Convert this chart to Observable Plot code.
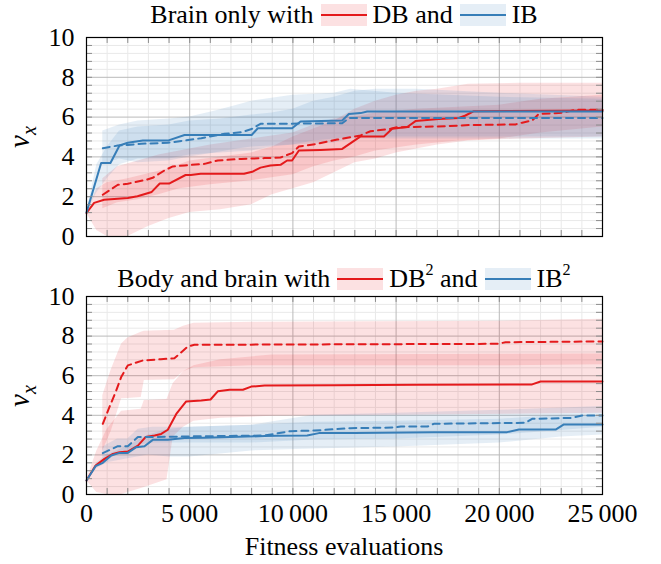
<!DOCTYPE html>
<html><head><meta charset="utf-8">
<script src="https://cdn.jsdelivr.net/npm/d3@7"></script>
<script src="https://cdn.jsdelivr.net/npm/@observablehq/plot@0.6"></script>
<style>
body{margin:0;background:#fff;font-family:"Liberation Serif","DejaVu Serif",serif;}
#wrap{position:relative;width:661px;height:564px;overflow:hidden;background:#fff;}
.title{position:absolute;left:86px;width:516px;display:flex;justify-content:center;align-items:center;font-size:26px;line-height:30px;white-space:nowrap;color:#000;z-index:2;font-family:"Liberation Serif",serif;}
.title svg{margin:0 6px 0 7px;}
.title sup{font-size:0.62em;line-height:0;position:relative;top:-0.15em;}
.ylab{position:absolute;width:60px;text-align:center;font-size:29px;font-style:italic;transform:translate(-50%,-50%) rotate(-90deg);font-family:"Liberation Serif",serif;z-index:2;}
.ylab sub{font-size:0.7em;}
.xlab{position:absolute;left:86px;width:516px;text-align:center;font-size:26px;font-family:"Liberation Serif",serif;z-index:2;}
.panel{position:absolute;left:0;z-index:1;}
.panel svg text{font-family:"Liberation Serif",serif !important;}
</style></head>
<body><div id="wrap"></div>
<script>
// ---------- data ----------
const red = "#e41a1c", blue = "#377eb8";
const xMajor = [0, 5000, 10000, 15000, 20000, 25000];
const xTickLabels = ["0", "5\u2009000", "10\u2009000", "15\u2009000", "20\u2009000", "25\u2009000"];
const xMinor = [1000,2000,3000,4000,6000,7000,8000,9000,11000,12000,13000,14000,16000,17000,18000,19000,21000,22000,23000,24000];
const yMajor = [0, 2, 4, 6, 8, 10];
const yTickLabels = ["0", "2", "4", "6", "8", "10"];
const yMinor = [0.4,0.8,1.2,1.6,2.4,2.8,3.2,3.6,4.4,4.8,5.2,5.6,6.4,6.8,7.2,7.6,8.4,8.8,9.2,9.6];

// Top panel: brain only
const dbTop = [[0,1.18],[370,1.69],[855,1.85],[2000,1.94],[2470,2.02],[3160,2.24],[3550,2.66],[4000,2.66],[4800,3.09],[5050,3.09],[5530,3.15],[7630,3.15],[8030,3.25],[8430,3.46],[8910,3.57],[9400,3.6],[9720,3.82],[9960,3.82],[10290,4.32],[11340,4.35],[12390,4.4],[13280,5.03],[14410,5.03],[14810,5.41],[15540,5.5],[15940,5.8],[17070,5.9],[18040,5.96],[18360,6.08],[18770,6.3],[25000,6.33]];
const dbTopDash = [[790,2.1],[1520,2.6],[2000,2.65],[2890,2.85],[3210,2.95],[3780,3.32],[4180,3.52],[4750,3.57],[5720,3.65],[6360,3.82],[7500,3.9],[8630,3.94],[9400,3.97],[9960,4.19],[10290,4.52],[11180,4.66],[12150,4.87],[13280,5.08],[13760,5.29],[14730,5.41],[15050,5.49],[17400,5.54],[18525,5.6],[20780,5.63],[21110,5.72],[21590,5.83],[21920,6.16],[22880,6.2],[23210,6.25],[23690,6.37],[25000,6.37]];
const ibTop = [[0,1.2],[710,3.69],[1160,3.69],[1600,4.57],[2000,4.71],[2730,4.82],[3940,4.82],[4750,5.1],[8000,5.1],[8300,5.44],[9960,5.44],[10370,5.78],[12390,5.83],[12710,6.16],[13280,6.2],[13600,6.28],[25000,6.28]];
const ibTopDash = [[790,4.44],[1520,4.57],[2000,4.6],[2650,4.66],[3940,4.71],[4750,4.82],[5560,4.94],[6690,5.16],[7500,5.24],[8000,5.4],[8430,5.66],[12390,5.69],[12710,5.95],[25000,5.95]];
const dbTopBand = [[0,1.18,1.18],[500,0.3,2.4],[1000,0,2.7],[2000,0,2.9],[3000,0.5,3.15],[4000,0.9,3.4],[5000,1.2,3.8],[6500,1.35,4.0],[8000,1.6,4.2],[9000,2.1,4.5],[10000,2.4,5.0],[11000,2.7,5.4],[12000,3.2,5.8],[13000,3.7,6.4],[14000,3.9,6.8],[15000,4.2,7.1],[16000,4.4,7.3],[17000,4.6,7.4],[18500,4.8,7.65],[21000,4.9,7.7],[25000,5.0,7.7]];
const dbTopDashBand = [[790,1.4,2.9],[1500,1.7,3.5],[2500,1.85,3.8],[3500,2.1,4.1],[4500,2.4,4.3],[6000,2.6,4.6],[8000,2.8,4.9],[10000,3.1,5.2],[11000,3.5,5.6],[12000,3.8,5.9],[13000,4.0,6.0],[14000,4.3,6.2],[16000,4.6,6.4],[18000,4.8,6.5],[20000,4.9,6.6],[22000,5.2,6.9],[25000,5.5,7.1]];
const ibTopBand = [[0,1.2,1.2],[500,2.2,3.6],[1000,2.9,4.5],[1600,3.6,5.3],[2500,3.9,5.5],[4000,3.9,5.6],[5000,4.1,5.8],[6500,4.2,5.9],[8000,4.3,6.1],[9000,4.5,6.2],[10000,4.6,6.4],[11000,4.8,6.8],[12000,4.9,7.0],[13000,5.0,7.3],[14000,5.0,7.4],[16000,5.0,7.4],[18000,5.0,7.3],[20000,5.0,7.2],[25000,5.0,7.0]];
const ibTopDashBand = [[790,3.6,5.3],[1600,3.9,5.6],[2500,3.7,5.8],[4000,3.8,5.9],[5000,4.0,6.0],[6200,4.2,6.3],[7300,4.4,6.6],[8000,4.5,6.8],[10000,4.6,7.1],[12000,4.7,7.2],[12800,4.9,7.4],[15000,4.9,7.2],[20000,4.9,7.0],[25000,4.9,6.9]];

// Bottom panel: body and brain
const dbBot = [[0,0.71],[440,1.46],[870,1.8],[1280,2.05],[1600,2.14],[2000,2.17],[2490,2.47],[2860,2.9],[3300,2.98],[3620,3.06],[3940,3.27],[4350,4.07],[4830,4.7],[5560,4.75],[6010,4.8],[6370,5.22],[6930,5.29],[7580,5.29],[7980,5.45],[8630,5.5],[12000,5.52],[16000,5.54],[21590,5.56],[22000,5.71],[25000,5.71]];
const dbBotDash = [[790,3.57],[1110,4.41],[1440,5.25],[1680,5.93],[2000,6.52],[2730,6.77],[3600,6.83],[4260,6.88],[4910,7.47],[5230,7.56],[19960,7.61],[20300,7.69],[25000,7.73]];
const ibBot = [[0,0.71],[440,1.43],[790,1.6],[1200,1.97],[1600,2.1],[2000,2.1],[2410,2.39],[2810,2.44],[3210,2.76],[3940,2.76],[4750,2.85],[5720,2.86],[8630,2.95],[9240,2.97],[10690,2.98],[11260,3.1],[12960,3.11],[16810,3.15],[20380,3.15],[20950,3.28],[22730,3.28],[23130,3.54],[25000,3.54]];
const ibBotDash = [[790,2.09],[1520,2.44],[2000,2.44],[2490,2.9],[3210,2.9],[4750,2.93],[8630,2.98],[9880,3.2],[11040,3.23],[12800,3.35],[14900,3.38],[15230,3.43],[16520,3.43],[16830,3.57],[21270,3.62],[21590,3.82],[23530,3.87],[24010,3.99],[25000,3.99]];
const dbBotBand = [[0,0.71,0.71],[500,0.1,2.2],[1000,0,3.3],[1700,0,4.2],[2650,0.3,4.3],[2800,0.35,4.75],[3900,0.75,4.8],[4200,2.9,5.6],[4700,3.4,6.2],[5200,3.7,6.5],[6500,3.85,6.8],[9000,3.95,7.05],[25000,4.1,7.1]];
const dbBotDashBand = [[790,2.2,5.0],[1200,3.2,6.3],[1700,4.83,7.6],[2000,4.85,7.9],[2650,4.9,8.2],[2800,5.76,8.25],[4260,5.8,8.3],[4700,6.2,8.5],[5200,6.4,8.65],[8000,6.5,8.7],[20000,6.5,8.75],[25000,6.55,8.85]];
const ibBotBand = [[0,0.71,0.71],[500,1.3,1.6],[1000,1.6,2.0],[2000,1.8,2.45],[3000,2.0,3.0],[4000,1.9,3.3],[5000,1.9,3.4],[8000,2.2,3.5],[11000,2.3,3.65],[15000,2.4,3.7],[20000,2.6,3.8],[23000,2.9,4.0],[25000,3.0,4.0]];
const ibBotDashBand = [[790,1.8,2.4],[1500,2.1,2.8],[2000,2.1,2.8],[2500,2.5,3.3],[3200,2.6,3.4],[5000,2.6,3.4],[8000,2.6,3.5],[11000,2.75,4.0],[15000,2.8,4.1],[20000,3.0,4.25],[25000,3.4,4.45]];

// ---------- drawing ----------
const W = 661, ML = 86, MR = 59;
const FONT = "Liberation Serif";
function band(d, c) {
  return Plot.areaY(d, {x: p => p[0], y1: p => p[1], y2: p => p[2], fill: c, fillOpacity: 0.13, curve: "linear"});
}
function line(d, c, dashed) {
  return Plot.line(d, {x: p => p[0], y: p => p[1], stroke: c, strokeWidth: 2, strokeDasharray: dashed ? "7,5" : null, curve: "linear"});
}
function panel(cfg) {
  const allX = xMajor.concat(xMinor), allY = yMajor.concat(yMinor);
  const ty = 290;
  const marks = [
    Plot.ruleX(xMinor, {stroke: "#e9e9e9", strokeWidth: 1}),
    Plot.ruleY(yMinor, {stroke: "#e9e9e9", strokeWidth: 1}),
    Plot.ruleX(xMajor, {stroke: "#bababa", strokeWidth: 1}),
    Plot.ruleY(yMajor, {stroke: "#bababa", strokeWidth: 1}),
    band(cfg.dbBand, red), band(cfg.dbDashBand, red),
    band(cfg.ibBand, blue), band(cfg.ibDashBand, blue),
    line(cfg.db, red, false), line(cfg.dbDash, red, true),
    line(cfg.ib, blue, false), line(cfg.ibDash, blue, true),
    Plot.ruleX(allX, {y1: 0, y2: 0.3, stroke: "#8c8c8c", strokeWidth: 1}),
    Plot.ruleX(allX, {y1: 10, y2: 9.7, stroke: "#8c8c8c", strokeWidth: 1}),
    Plot.ruleY(allY, {x1: 0, x2: ty, stroke: "#8c8c8c", strokeWidth: 1}),
    Plot.ruleY(allY, {x1: 25000, x2: 25000 - ty, stroke: "#8c8c8c", strokeWidth: 1}),
    Plot.frame({stroke: "#000", strokeWidth: 1.2}),
    Plot.axisY(yMajor, {tickSize: 0, tickPadding: 12, tickFormat: (d, i) => yTickLabels[i], fontSize: 26, fontFamily: FONT, fill: "#000", label: null})
  ];
  if (cfg.xaxis) marks.push(Plot.axisX(xMajor, {tickSize: 0, tickPadding: 9, tickFormat: (d, i) => xTickLabels[i], fontSize: 26, fontFamily: FONT, fill: "#000", label: null}));
  return Plot.plot({
    width: W, height: cfg.height, marginLeft: ML, marginRight: MR,
    marginTop: cfg.mt, marginBottom: cfg.mb,
    x: {domain: [0, 25000], axis: cfg.xaxis ? undefined : null},
    y: {domain: [0, 10]},
    style: {background: "transparent", fontFamily: FONT, overflow: "visible"},
    marks
  });
}
function swatch(c) {
  return `<svg width="46" height="22" viewBox="0 0 46 22"><rect x="0" y="0" width="46" height="22" fill="${c}" fill-opacity="0.13"/><line x1="0" x2="46" y1="11" y2="11" stroke="${c}" stroke-width="2.2"/></svg>`;
}
const wrap = document.getElementById("wrap");
function addDiv(cls, html, style) {
  const d = document.createElement("div"); d.className = cls; d.innerHTML = html;
  Object.assign(d.style, style); wrap.appendChild(d); return d;
}
addDiv("title", `<span>Brain only with</span>${swatch(red)}<span>DB and</span>${swatch(blue)}<span>IB</span>`, {top: "0px"});
const p1 = panel({db: dbTop, dbDash: dbTopDash, ib: ibTop, ibDash: ibTopDash, dbBand: dbTopBand, dbDashBand: dbTopDashBand, ibBand: ibTopBand, ibDashBand: ibTopDashBand, height: 222, mt: 11, mb: 12, xaxis: false});
const d1 = addDiv("panel", "", {top: "26px"}); d1.appendChild(p1);
addDiv("title", `<span>Body and brain with</span>${swatch(red)}<span>DB<sup>2</sup> and</span>${swatch(blue)}<span>IB<sup>2</sup></span>`, {top: "264px"});
const p2 = panel({db: dbBot, dbDash: dbBotDash, ib: ibBot, ibDash: ibBotDash, dbBand: dbBotBand, dbDashBand: dbBotDashBand, ibBand: ibBotBand, ibDashBand: ibBotDashBand, height: 279, mt: 11, mb: 70, xaxis: true});
const d2 = addDiv("panel", "", {top: "285px"}); d2.appendChild(p2);
addDiv("ylab", `v<sub>x</sub>`, {left: "22px", top: "137px"});
addDiv("ylab", `v<sub>x</sub>`, {left: "22px", top: "396px"});
addDiv("xlab", "Fitness evaluations", {top: "532px"});
</script>
</body></html>
